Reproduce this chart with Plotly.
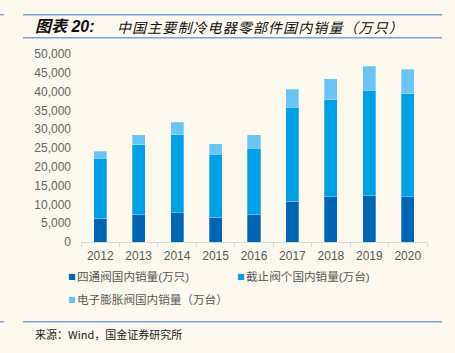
import plotly.graph_objects as go

years = ["2012", "2013", "2014", "2015", "2016", "2017", "2018", "2019", "2020"]
four_way = [6300, 7200, 7800, 6600, 7200, 10800, 12000, 12300, 12000]
stop_valve = [16000, 18600, 20700, 16700, 17700, 25100, 25800, 28000, 27400]
exp_valve = [1900, 2700, 3400, 2800, 3600, 4700, 5600, 6400, 6600]
names = ["四通阀国内销量(万只)", "截止阀个国内销量(万台)", "电子膨胀阀国内销量（万台）"]
colors = ["#0066B3", "#009FE6", "#6CC4F5"]
yticks = [0, 5000, 10000, 15000, 20000, 25000, 30000, 35000, 40000, 45000, 50000]

BG = "#FDF9EE"
LINE = "#7FA3D8"

fig = go.Figure()
for vals, nm, c in zip([four_way, stop_valve, exp_valve], names, colors):
    fig.add_trace(go.Bar(x=years, y=vals, name=nm, marker_color=c,
                         marker_line=dict(color="rgba(255,255,255,0.35)", width=0.8),
                         showlegend=False))

fig.update_layout(
    barmode="stack",
    bargap=0.66,
    width=455, height=353,
    margin=dict(l=81, r=28, t=54.3, b=110.7),
    paper_bgcolor=BG, plot_bgcolor=BG,
    font=dict(family="Liberation Sans, Arial, Noto Sans CJK SC", color="#595959", size=12),
    xaxis=dict(type="category", range=[-0.5, 8.5], showline=True, linecolor="#D9D9D9", linewidth=1,
               ticks="outside", tickson="boundaries", ticklen=4, tickcolor="#D9D9D9",
               ticklabelstandoff=3, showgrid=False, tickfont=dict(size=12, color="#595959")),
    yaxis=dict(range=[0, 50000], tickvals=yticks, tickformat=",", showgrid=False, zeroline=False,
               showline=False, ticklabelstandoff=9, tickfont=dict(size=12, color="#666666")),
)

def px(xp, yp):
    return (xp - 81) / 346, (242.3 - yp) / 188

shapes = []
for y in [15, 38, 322]:
    x0, yy = px(23, y)
    x1, _ = px(442, y)
    shapes.append(dict(type="line", xref="x domain", yref="y domain",
                       x0=x0, x1=x1, y0=yy, y1=yy, line=dict(color=LINE, width=1.5)))
for y in [15, 322]:
    x0, yy = px(0, y)
    x1, _ = px(4, y)
    shapes.append(dict(type="line", xref="x domain", yref="y domain",
                       x0=x0, x1=x1, y0=yy, y1=yy, line=dict(color=LINE, width=1.5)))
fig.layout.shapes = shapes

anns = []
tx, ty = px(33, 27)
anns.append(dict(xref="x domain", yref="y domain", x=tx, y=ty, xanchor="left", yanchor="middle",
                 showarrow=False,
                 text="<b><i>图表 20:</i></b>",
                 font=dict(family="Liberation Sans, Noto Sans CJK SC", size=16, color="#111111")))
tx2, _ = px(115, 27)
anns.append(dict(xref="x domain", yref="y domain", x=tx2, y=ty, xanchor="left", yanchor="middle",
                 showarrow=False,
                 text="<i><span style='letter-spacing:1.1px'>中国主要制冷电器零部件国内销量（万只）</span></i>",
                 font=dict(family="Noto Sans CJK SC", size=14, color="#111111")))
legend_pos = [(66, 277), (235, 277), (66, 300)]
for (lx, ly), nm, c in zip(legend_pos, names, colors):
    ax, ay = px(lx, ly)
    anns.append(dict(xref="x domain", yref="y domain", x=ax, y=ay, xanchor="left", yanchor="middle",
                     showarrow=False, text="■",
                     font=dict(family="DejaVu Sans", size=8, color=c)))
    ax2, _ = px(lx + 9, ly)
    anns.append(dict(xref="x domain", yref="y domain", x=ax2, y=ay, xanchor="left", yanchor="middle",
                     showarrow=False, text=nm,
                     font=dict(family="Liberation Sans, Noto Sans CJK SC", size=11.6, color="#595959")))
sx, sy = px(33, 334)
anns.append(dict(xref="x domain", yref="y domain", x=sx, y=sy, xanchor="left", yanchor="middle",
                 showarrow=False, text="来源：Wind，国金证券研究所",
                 font=dict(family="Noto Sans CJK SC", size=11, color="#222222")))
fig.layout.annotations = anns

fig.write_html("out.html")
